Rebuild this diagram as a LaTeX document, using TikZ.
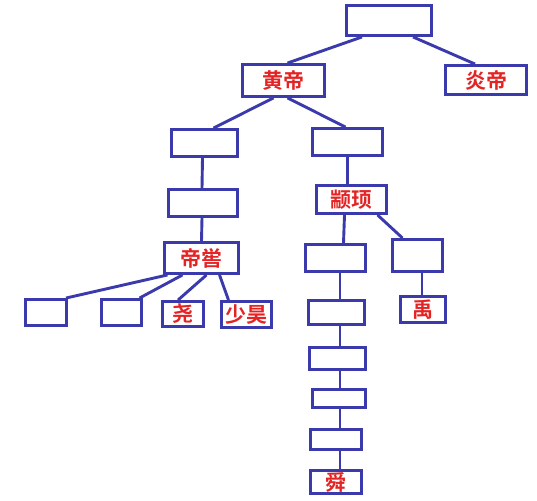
\documentclass[tikz,border=0pt]{standalone}
\usepackage{fontspec}
\usepackage{tikz}
\newfontfamily\cjk{Noto Sans CJK SC}[BoldFont={Noto Sans CJK SC Bold}]
\definecolor{treeblue}{RGB}{58,58,172}
\definecolor{namered}{RGB}{228,36,36}
\tikzset{
	person/.style={draw=treeblue, line width=2.9pt, inner sep=0pt, text=namered,
		font=\cjk\bfseries\fontsize{21}{21}\selectfont},
	link/.style={draw=treeblue, line width=2.9pt}
}

\begin{document}
\begin{tikzpicture}[x=1pt, y=-1pt]
\useasboundingbox (0, 0) rectangle (537, 500);

\node[person, minimum width=85pt, minimum height=30pt] (top) at (389, 20.5) {};
\node[person, minimum width=82pt, minimum height=32pt] (huangdi) at (283.5, 80.5) {黄帝};
\node[person, minimum width=81pt, minimum height=29pt] (yandi) at (486, 80) {炎帝};
\node[person, minimum width=66pt, minimum height=27pt] (left1) at (204.5, 143) {};
\node[person, minimum width=70pt, minimum height=27pt] (right1) at (347.5, 142) {};
\node[person, minimum width=69pt, minimum height=27pt] (left2) at (203, 203) {};
\node[person, minimum width=70pt, minimum height=28pt] (zhuanxu) at (351.5, 199.5) {颛顼};
\node[person, minimum width=74pt, minimum height=31pt] (diku) at (201.5, 258) {帝喾};
\node[person, minimum width=41pt, minimum height=26pt] (sonA) at (46, 312.5) {};
\node[person, minimum width=40pt, minimum height=26pt] (sonB) at (121.5, 312.5) {};
\node[person, minimum width=41pt, minimum height=25pt] (yao) at (183, 314) {尧};
\node[person, minimum width=50pt, minimum height=26pt] (shaohao) at (246.5, 314.5) {少昊};
\node[person, minimum width=60pt, minimum height=27pt] (gen1) at (335.5, 258) {};
\node[person, minimum width=56pt, minimum height=24pt] (gen2) at (336.5, 312.5) {};
\node[person, minimum width=56pt, minimum height=22pt] (gen3) at (337.5, 358.5) {};
\node[person, minimum width=53pt, minimum height=18pt] (gen4) at (339, 398.5) {};
\node[person, minimum width=51pt, minimum height=20pt] (gen5) at (336, 439.5) {};
\node[person, minimum width=51pt, minimum height=23pt] (shun) at (336, 482) {舜};
\node[person, minimum width=50pt, minimum height=32pt] (gun) at (417.5, 255.5) {};
\node[person, minimum width=45pt, minimum height=26pt] (yu) at (423, 309.5) {禹};

\coordinate (spine) at (340, 0);
\coordinate (yuline) at (422, 0);

\draw[link] ([xshift=-27pt]top.south) -- ([xshift=4pt]huangdi.north);
\draw[link] ([xshift=24pt]top.south) -- ([xshift=-11pt]yandi.north);
\draw[link] ([xshift=-10pt]huangdi.south) -- ([xshift=9pt]left1.north);
\draw[link] ([xshift=4pt]huangdi.south) -- ([xshift=-2pt]right1.north);
\draw[link] ([xshift=-2pt]left1.south) -- ([xshift=-1pt]left2.north);
\draw[link] (right1.south) -- ([xshift=-4pt]zhuanxu.north);
\draw[link] ([xshift=-1pt]left2.south) -- (diku.north);

\draw[link] ([xshift=-34pt]diku.south) -- ([xshift=20pt]sonA.north);
\draw[link] ([xshift=-19pt]diku.south) -- ([xshift=18pt]sonB.north);
\draw[link] ([xshift=5pt]diku.south) -- ([xshift=-5pt]yao.north);
\draw[link] ([xshift=18pt]diku.south) -- ([xshift=-18pt]shaohao.north);

\draw[link] ([xshift=-7pt]zhuanxu.south) -- ([xshift=8pt]gen1.north);
\draw[link] ([xshift=26pt]zhuanxu.south) -- ([xshift=-15pt]gun.north);
\draw[link] (gun.south -| yuline) -- (yu.north -| yuline);

\foreach \a/\b in {gen1/gen2, gen2/gen3, gen3/gen4, gen4/gen5, gen5/shun}
	\draw[link] (\a.south -| spine) -- (\b.north -| spine);
\end{tikzpicture}
\end{document}
